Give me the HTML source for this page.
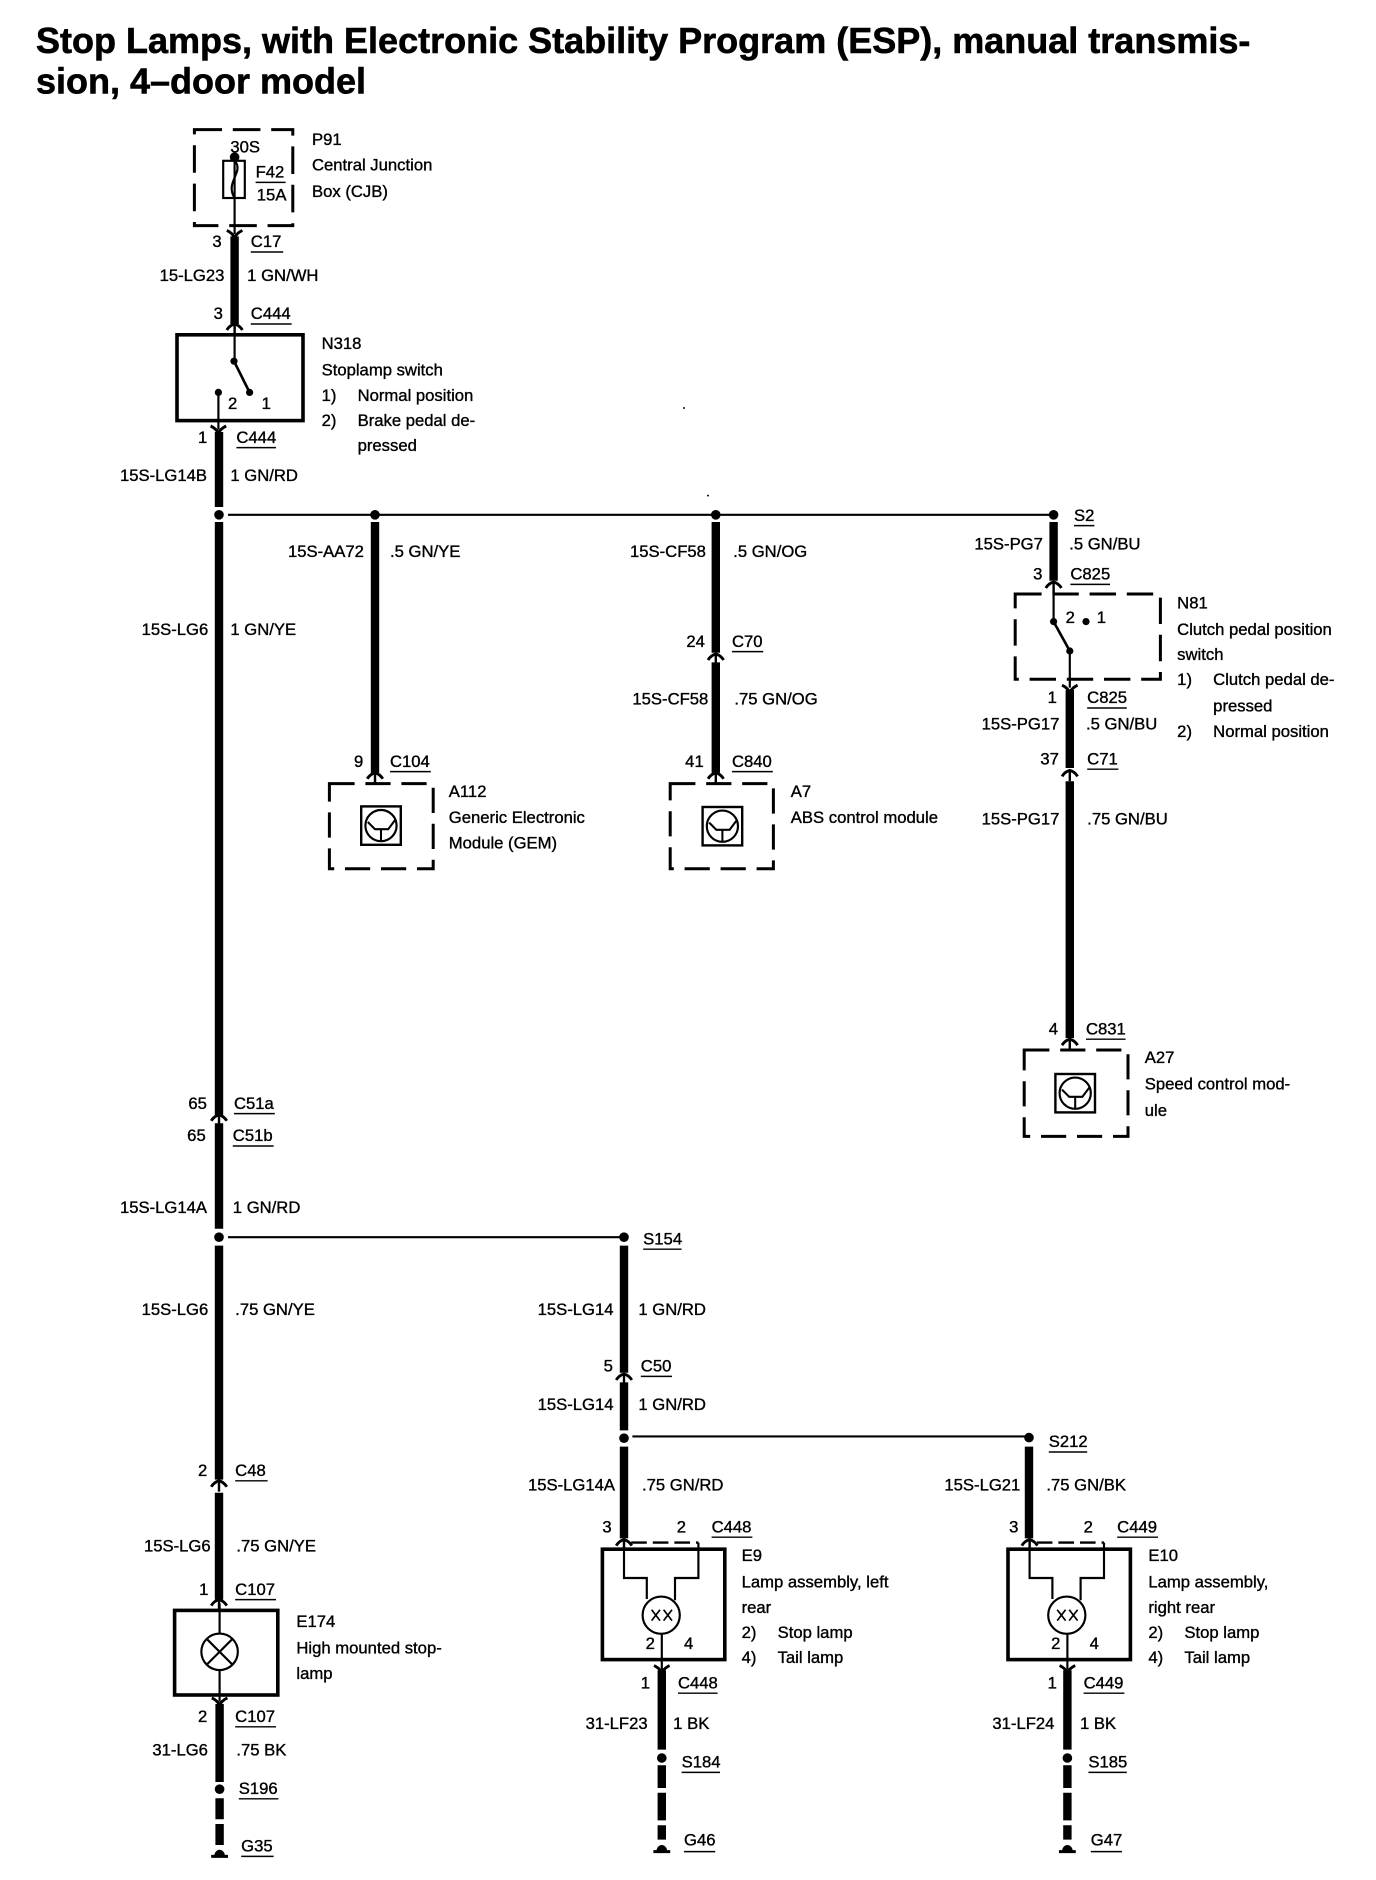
<!DOCTYPE html>
<html><head><meta charset="utf-8"><title>Stop Lamps</title>
<style>
html,body{margin:0;padding:0;background:#fff;width:1376px;height:1880px;overflow:hidden}
svg{display:block}
text{font-family:"Liberation Sans",sans-serif;font-size:13.900px;fill:#000;stroke:#000;stroke-width:.3}
.t{font-weight:bold;font-size:30px;stroke-width:.5}
.k{stroke:#000;fill:none}
</style></head><body>
<svg width="1376" height="1880" viewBox="0 0 1146.67 1566.67" xmlns="http://www.w3.org/2000/svg">
<defs>
<g id="u" fill="none" stroke="#000" stroke-width="2.400"><path d="M-6.500 3Q-4-1 0-2Q4-1 6.500 3"/><path d="M0-2V7" stroke-width="2"/></g>
<path id="d" d="M-6.500-3Q-2-1 0 3Q2-1 6.500-3" fill="none" stroke="#000" stroke-width="2.400"/>
<g id="q" fill="none" stroke="#000">
<rect x="-16.500" y="-16" width="33" height="32" stroke-width="2"/>
<circle r="13" stroke-width="1.800"/>
<path d="M-11-3L-5 3H6L12-5M0 3V13" stroke-width="1.700"/>
</g>
<g id="g"><path d="M-7 0H7" stroke="#000" stroke-width="2.500"/><path d="M-4.500 0A4.500 5.500 0 0 1 4.500 0Z" fill="#000"/></g>
<g id="lamp" fill="none" stroke="#000">
<rect x="-18" y="5.500" width="102" height="92" stroke-width="3"/>
<path d="M0-2V29.500H19V47M62 0V29.500H42.500V48" stroke-width="1.800"/>
<path d="M6 0H62" stroke-width="2" stroke-dasharray="13 5"/>
<circle cx="31" cy="60.500" r="15.500" stroke-width="1.800"/>
<path d="M23 56L30 65M30 56L23 65M33 56L40 65M40 56L33 65" stroke-width="1.400"/>
<path d="M31.500 76V106" stroke-width="1.800"/>
</g>
</defs>

<text class="t" x="30" y="44" textLength="1012" lengthAdjust="spacingAndGlyphs">Stop Lamps, with Electronic Stability Program (ESP), manual transmis-</text>
<text class="t" x="30" y="78" textLength="275" lengthAdjust="spacingAndGlyphs">sion, 4–door model</text>

<!-- thick wires -->
<path class="k" stroke-width="7" d="M195.500 197V270M182.500 360V422.500M182.500 435V929M182.500 936V1024M182.500 1038V1233M182.500 1244V1333M183 1420V1485M183 1498.500V1516M183 1520V1537.500
M312.500 435V644M596.500 435V544M596.500 552V644M878 435V484M891.500 575V640M891.500 651V865
M520 1038V1144M520 1152V1192M520 1205.500V1282M551.500 1392V1458M551.500 1471V1490M551.500 1494V1517M551.500 1521V1533
M857.500 1205.500V1282M889.500 1392V1458M889.500 1471V1490M889.500 1494V1517M889.500 1521V1533"/>

<!-- thin wires -->
<path class="k" stroke-width="1.800" d="M195.500 131V195M195.500 272V301M182 327V358M183 1336V1362M183 1392V1418M312.500 650V653M596.500 650V653
M878 490V518M891.500 542.500V573M891.500 870V875"/>
<path class="k" stroke-width="1.800" d="M190 429H878M190 1031H520M527 1197H857.500"/>

<!-- forks -->
<use href="#d" x="195.500" y="195"/><use href="#u" x="195.500" y="272"/><use href="#d" x="182" y="358"/>
<use href="#u" x="182.500" y="931"/>
<use href="#u" x="182.500" y="1236"/><use href="#u" x="182.500" y="1335"/><use href="#d" x="183" y="1418"/>
<use href="#u" x="312.500" y="646"/><use href="#u" x="596.500" y="547"/><use href="#u" x="596.500" y="646"/>
<use href="#u" x="878" y="487"/><use href="#d" x="891.500" y="574"/><use href="#u" x="891.500" y="644"/><use href="#u" x="891.500" y="868"/>
<use href="#u" x="520" y="1147"/><use href="#u" x="520" y="1285"/><use href="#u" x="858" y="1285"/>
<use href="#d" x="551.500" y="1391"/><use href="#d" x="889.500" y="1391"/>

<!-- dots -->
<g fill="#000">
<circle cx="182.500" cy="429" r="4"/><circle cx="312.500" cy="429" r="4"/><circle cx="596.500" cy="429" r="4"/><circle cx="878" cy="429" r="4"/>
<circle cx="182.500" cy="1031" r="4"/><circle cx="520" cy="1031" r="4"/><circle cx="520" cy="1198.500" r="4"/><circle cx="857.500" cy="1198" r="4"/>
<circle cx="183" cy="1491" r="4"/><circle cx="551.500" cy="1465" r="4"/><circle cx="889.500" cy="1465" r="4"/>
<circle cx="195.500" cy="131" r="4"/><circle cx="195" cy="301" r="3"/><circle cx="208" cy="327" r="3"/><circle cx="182" cy="327" r="3"/>
<circle cx="878" cy="518" r="3"/><circle cx="891.500" cy="542.500" r="3"/><circle cx="905" cy="518" r="3"/>
<circle cx="570" cy="340" r=".8"/><circle cx="590" cy="413" r=".8"/>
</g>

<!-- P91 box -->
<rect class="k" x="162" y="108" width="82" height="80" stroke-width="2.500" stroke-dasharray="23 9"/>
<rect class="k" x="186" y="134" width="18" height="31" stroke-width="1.800"/>
<path class="k" stroke-width="1.800" d="M195.500 134C204 143 187 152 195.500 165"/>
<path class="k" stroke-width="1.200" d="M213 152H238"/>

<!-- N318 -->
<rect class="k" x="147.500" y="279" width="105" height="71.500" stroke-width="3"/>
<path class="k" stroke-width="2.200" d="M195 301L208 327"/>

<!-- N81 -->
<rect class="k" x="846" y="495" width="121" height="71" stroke-width="2.500" stroke-dasharray="22 9"/>
<path class="k" stroke-width="2.200" d="M878 518L891.500 542.500"/>

<!-- modules -->
<rect class="k" x="274.500" y="653" width="86.500" height="71" stroke-width="2.500" stroke-dasharray="21 9"/>
<use href="#q" x="317.500" y="688"/>
<rect class="k" x="558.500" y="653" width="86" height="71" stroke-width="2.500" stroke-dasharray="21 9"/>
<use href="#q" x="602" y="688.500"/>
<rect class="k" x="853.500" y="875" width="86.500" height="72" stroke-width="2.500" stroke-dasharray="21 9"/>
<use href="#q" x="896" y="911"/>

<!-- E174 -->
<rect class="k" x="145.500" y="1342" width="86" height="70.500" stroke-width="3"/>
<circle class="k" cx="183" cy="1376.500" r="15.200" stroke-width="1.800"/>
<path class="k" stroke-width="1.800" d="M172.500 1366L193.500 1387M193.500 1366L172.500 1387"/>

<!-- lamp assemblies -->
<use href="#lamp" x="520" y="1285.500"/>
<use href="#lamp" x="858" y="1285.500"/>

<!-- grounds -->
<use href="#g" x="183" y="1547"/><use href="#g" x="551.500" y="1543"/><use href="#g" x="889.500" y="1543"/>

<!-- underlines -->
<path class="k" stroke-width="1.200" d="M209 210H236M209 270H243M197 373H230M895 438H912M892 487H925M906 590H939M906 641H932M610 543H636M610 643H644M325 643H359M905 866H938
M195 928H229M194 955H228M536 1041H568M534 1147H560M874 1210H906M196 1234H223M593 1281H627M931 1281H965M196 1333H230M565 1411H598M903 1411H937M196 1439H230
M199 1499H232M568 1477H600M907 1477H939M201 1547H228M570 1543H596M909 1543H935"/>

<!-- labels -->
<text x="260" y="121">P91</text><text x="260" y="142">Central Junction</text><text x="260" y="164">Box (CJB)</text>
<text x="192" y="127">30S</text><text x="213" y="148">F42</text><text x="214" y="167">15A</text>
<text x="177" y="206">3</text><text x="209" y="206">C17</text>
<text x="133" y="234">15-LG23</text><text x="206" y="234">1 GN/WH</text>
<text x="178" y="266">3</text><text x="209" y="266">C444</text>
<text x="268" y="291">N318</text><text x="268" y="313">Stoplamp switch</text>
<text x="268" y="334">1)</text><text x="298" y="334">Normal position</text>
<text x="268" y="355">2)</text><text x="298" y="355">Brake pedal de-</text><text x="298" y="376">pressed</text>
<text x="190" y="341">2</text><text x="218" y="341">1</text>
<text x="165" y="369">1</text><text x="197" y="369">C444</text>
<text x="100" y="401">15S-LG14B</text><text x="192" y="401">1 GN/RD</text>
<text x="895" y="434">S2</text>
<text x="240" y="464">15S-AA72</text><text x="325" y="464">.5 GN/YE</text>
<text x="525" y="464">15S-CF58</text><text x="611" y="464">.5 GN/OG</text>
<text x="812" y="458">15S-PG7</text><text x="891" y="458">.5 GN/BU</text>
<text x="118" y="529">15S-LG6</text><text x="192" y="529">1 GN/YE</text>
<text x="861" y="483">3</text><text x="892" y="483">C825</text>
<text x="981" y="507">N81</text><text x="981" y="529">Clutch pedal position</text><text x="981" y="550">switch</text>
<text x="981" y="571">1)</text><text x="1011" y="571">Clutch pedal de-</text><text x="1011" y="593">pressed</text>
<text x="981" y="614">2)</text><text x="1011" y="614">Normal position</text>
<text x="888" y="519">2</text><text x="914" y="519">1</text>
<text x="873" y="586">1</text><text x="906" y="586">C825</text>
<text x="818" y="608">15S-PG17</text><text x="905" y="608">.5 GN/BU</text>
<text x="867" y="637">37</text><text x="906" y="637">C71</text>
<text x="572" y="539">24</text><text x="610" y="539">C70</text>
<text x="527" y="587">15S-CF58</text><text x="612" y="587">.75 GN/OG</text>
<text x="571" y="639">41</text><text x="610" y="639">C840</text>
<text x="295" y="639">9</text><text x="325" y="639">C104</text>
<text x="374" y="664">A112</text><text x="374" y="686">Generic Electronic</text><text x="374" y="707">Module (GEM)</text>
<text x="659" y="664">A7</text><text x="659" y="686">ABS control module</text>
<text x="818" y="687">15S-PG17</text><text x="906" y="687">.75 GN/BU</text>
<text x="874" y="862">4</text><text x="905" y="862">C831</text>
<text x="954" y="886">A27</text><text x="954" y="908">Speed control mod-</text><text x="954" y="930">ule</text>
<text x="157" y="924">65</text><text x="195" y="924">C51a</text>
<text x="156" y="951">65</text><text x="194" y="951">C51b</text>
<text x="100" y="1011">15S-LG14A</text><text x="194" y="1011">1 GN/RD</text>
<text x="536" y="1037">S154</text>
<text x="118" y="1096">15S-LG6</text><text x="196" y="1096">.75 GN/YE</text>
<text x="448" y="1096">15S-LG14</text><text x="532" y="1096">1 GN/RD</text>
<text x="503" y="1143">5</text><text x="534" y="1143">C50</text>
<text x="448" y="1175">15S-LG14</text><text x="532" y="1175">1 GN/RD</text>
<text x="874" y="1206">S212</text>
<text x="165" y="1230">2</text><text x="196" y="1230">C48</text>
<text x="440" y="1242">15S-LG14A</text><text x="535" y="1242">.75 GN/RD</text>
<text x="787" y="1242">15S-LG21</text><text x="872" y="1242">.75 GN/BK</text>
<text x="502" y="1277">3</text><text x="564" y="1277">2</text><text x="593" y="1277">C448</text>
<text x="841" y="1277">3</text><text x="903" y="1277">2</text><text x="931" y="1277">C449</text>
<text x="120" y="1293">15S-LG6</text><text x="197" y="1293">.75 GN/YE</text>
<text x="166" y="1329">1</text><text x="196" y="1329">C107</text>
<text x="247" y="1356">E174</text><text x="247" y="1378">High mounted stop-</text><text x="247" y="1399">lamp</text>
<text x="618" y="1301">E9</text><text x="618" y="1323">Lamp assembly, left</text><text x="618" y="1344">rear</text>
<text x="618" y="1365">2)</text><text x="648" y="1365">Stop lamp</text><text x="618" y="1386">4)</text><text x="648" y="1386">Tail lamp</text>
<text x="957" y="1301">E10</text><text x="957" y="1323">Lamp assembly,</text><text x="957" y="1344">right rear</text>
<text x="957" y="1365">2)</text><text x="987" y="1365">Stop lamp</text><text x="957" y="1386">4)</text><text x="987" y="1386">Tail lamp</text>
<text x="538" y="1374">2</text><text x="570" y="1374">4</text><text x="876" y="1374">2</text><text x="908" y="1374">4</text>
<text x="534" y="1407">1</text><text x="565" y="1407">C448</text>
<text x="873" y="1407">1</text><text x="903" y="1407">C449</text>
<text x="165" y="1435">2</text><text x="196" y="1435">C107</text>
<text x="127" y="1463">31-LG6</text><text x="197" y="1463">.75 BK</text>
<text x="488" y="1441">31-LF23</text><text x="561" y="1441">1 BK</text>
<text x="827" y="1441">31-LF24</text><text x="900" y="1441">1 BK</text>
<text x="199" y="1495">S196</text><text x="568" y="1473">S184</text><text x="907" y="1473">S185</text>
<text x="201" y="1543">G35</text><text x="570" y="1538">G46</text><text x="909" y="1538">G47</text>
</svg>
</body></html>
